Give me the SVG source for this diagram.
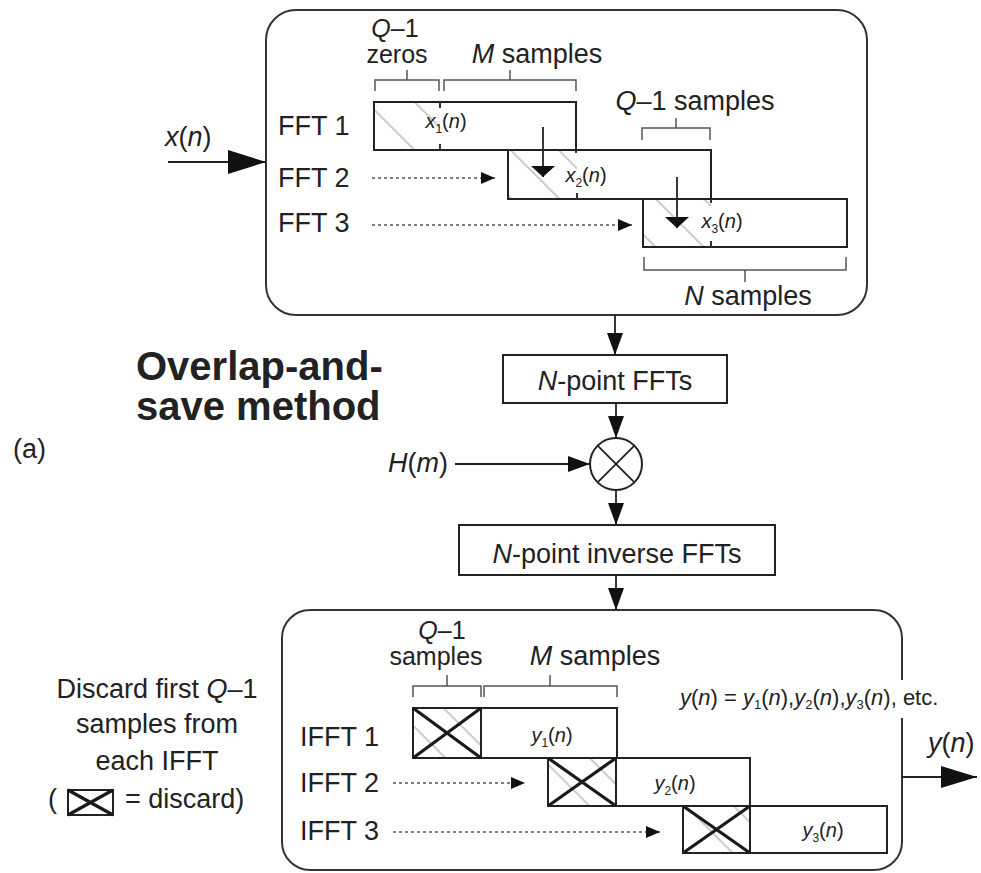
<svg xmlns="http://www.w3.org/2000/svg" width="981" height="873" viewBox="0 0 981 873">
<style>
text{font-family:"Liberation Sans",Arial,sans-serif;fill:#222}
.lb{font-size:27px}
.st{font-size:25px}
.sm{font-size:20px}
.eq{font-size:22px}
.hd{font-size:40px;font-weight:bold}
.it{font-style:italic}
.box{fill:#fff;stroke:#222;stroke-width:2}
.frame{fill:none;stroke:#333;stroke-width:2}
.br{fill:none;stroke:#555;stroke-width:1.5}
.ln{fill:none;stroke:#222;stroke-width:1.8}
.dot{fill:none;stroke:#555;stroke-width:1.6;stroke-dasharray:3 3}
.xx{stroke:#1a1a1a;stroke-width:3.2;fill:none}
.hatch{fill:url(#hp)}
.tick{stroke:#333;stroke-width:2}
</style>
<defs>
<pattern id="hp" patternUnits="userSpaceOnUse" width="34" height="34" patternTransform="rotate(-45)">
<line x1="17" y1="0" x2="17" y2="34" stroke="#aaa" stroke-width="1.2"/>
</pattern>
<marker id="mf" markerUnits="userSpaceOnUse" markerWidth="22" markerHeight="16" refX="22" refY="8" orient="auto"><path d="M0,0 L22,8 L0,16 Z" fill="#111"/></marker>
<marker id="mb" markerUnits="userSpaceOnUse" markerWidth="38" markerHeight="24" refX="38" refY="12" orient="auto"><path d="M0,0 L38,12 L0,24 Z" fill="#111"/></marker>
<marker id="mbo" markerUnits="userSpaceOnUse" markerWidth="36" markerHeight="22" refX="36" refY="11" orient="auto"><path d="M0,0 L36,11 L0,22 Z" fill="#111"/></marker>
<marker id="ms" markerUnits="userSpaceOnUse" markerWidth="14" markerHeight="12" refX="14" refY="6" orient="auto"><path d="M0,0 L14,6 L0,12 Z" fill="#111"/></marker>
<marker id="mw" markerUnits="userSpaceOnUse" markerWidth="11" markerHeight="24" refX="11" refY="12" orient="auto"><path d="M0,0 L11,12 L0,24 Z" fill="#111"/></marker>
</defs>
<rect width="981" height="873" fill="#fff"/>

<g id="input-frame">
<rect x="266" y="10" width="601" height="305" rx="30" class="frame"/>
<text class="st" x="395" y="37" text-anchor="middle"><tspan class="it">Q</tspan>–1</text>
<text class="st" x="397" y="63" text-anchor="middle">zeros</text>
<text class="lb" x="537" y="63" text-anchor="middle"><tspan class="it">M</tspan> samples</text>
<text class="lb" x="695" y="110" text-anchor="middle"><tspan class="it">Q</tspan>–1 samples</text>
<text class="lb" x="748" y="305" text-anchor="middle"><tspan class="it">N</tspan> samples</text>
<path class="br" d="M375,91 V80 H439 V91 M407,80 V70"/>
<path class="br" d="M444,91 V80 H576 V91 M510,80 V70"/>
<path class="br" d="M642,140 V128 H710 V140 M676,128 V118"/>
<path class="br" d="M644,257 V270 H846 V257 M745,270 V282"/>
</g>

<g id="fft1">
<text class="lb" x="278" y="135">FFT 1</text>
<rect x="374" y="102" width="202" height="48" class="box"/>
<rect x="375" y="103" width="65" height="46" class="hatch"/>
<line x1="440" y1="102" x2="440" y2="108" class="tick"/>
<line x1="440" y1="144" x2="440" y2="150" class="tick"/>
<text class="sm" x="446" y="128" text-anchor="middle"><tspan class="it">x</tspan><tspan font-size="12" dy="5">1</tspan><tspan dy="-5">(</tspan><tspan class="it">n</tspan>)</text>
</g>

<g id="fft2">
<text class="lb" x="278" y="187">FFT 2</text>
<rect x="508" y="150" width="203" height="49" class="box"/>
<rect x="509" y="151" width="68" height="47" class="hatch"/>
<line x1="577" y1="193" x2="577" y2="199" class="tick"/>
<text class="sm" x="586" y="182" text-anchor="middle"><tspan class="it">x</tspan><tspan font-size="12" dy="5">2</tspan><tspan dy="-5">(</tspan><tspan class="it">n</tspan>)</text>
</g>

<g id="fft3">
<text class="lb" x="278" y="232">FFT 3</text>
<rect x="643" y="199" width="204" height="48" class="box"/>
<rect x="644" y="200" width="67" height="46" class="hatch"/>
<line x1="711" y1="241" x2="711" y2="247" class="tick"/>
<text class="sm" x="722" y="228" text-anchor="middle"><tspan class="it">x</tspan><tspan font-size="12" dy="5">3</tspan><tspan dy="-5">(</tspan><tspan class="it">n</tspan>)</text>
</g>

<g id="fft-overlap-edges">
<line x1="576" y1="102" x2="576" y2="153" class="ln"/>
<line x1="711" y1="150" x2="711" y2="203" class="ln"/>
</g>

<g id="title">
<text class="hd" x="136" y="380">Overlap-and-</text>
<text class="hd" x="136" y="420">save method</text>
<text class="lb" x="13" y="458">(a)</text>
</g>

<g id="nfft">
<rect x="503" y="355" width="224" height="48" class="box"/>
<text class="lb" x="615" y="390" text-anchor="middle"><tspan class="it">N</tspan>-point FFTs</text>
</g>

<g id="mult">
<circle cx="616" cy="464" r="26" class="box"/>
<path d="M597.6,445.6 L634.4,482.4 M634.4,445.6 L597.6,482.4" stroke="#222" stroke-width="1.8"/>
</g>

<g id="hm">
<text class="lb" x="448" y="472" text-anchor="end"><tspan class="it">H</tspan>(<tspan class="it">m</tspan>)</text>
</g>

<g id="nifft">
<rect x="459" y="525" width="316" height="50" class="box"/>
<text class="lb" x="617" y="563" text-anchor="middle"><tspan class="it">N</tspan>-point inverse FFTs</text>
</g>

<g id="output-frame">
<path class="frame" d="M902,718 V842 A28,28 0 0 1 874,870 H310 A28,28 0 0 1 282,842 V638 A28,28 0 0 1 310,610 H874 A28,28 0 0 1 902,638 V680"/>
<text class="st" x="442" y="639" text-anchor="middle"><tspan class="it">Q</tspan>–1</text>
<text class="st" x="436" y="665" text-anchor="middle">samples</text>
<text class="lb" x="595" y="665" text-anchor="middle"><tspan class="it">M</tspan> samples</text>
<path class="br" d="M413,697 V686 H481 V697 M447,686 V675"/>
<path class="br" d="M484,697 V686 H617 V697 M550,686 V675"/>
<text class="eq" x="680" y="705"><tspan class="it">y</tspan>(<tspan class="it">n</tspan>) = <tspan class="it">y</tspan><tspan font-size="13" dy="4">1</tspan><tspan dy="-4">(</tspan><tspan class="it">n</tspan>),<tspan class="it">y</tspan><tspan font-size="13" dy="4">2</tspan><tspan dy="-4">(</tspan><tspan class="it">n</tspan>),<tspan class="it">y</tspan><tspan font-size="13" dy="4">3</tspan><tspan dy="-4">(</tspan><tspan class="it">n</tspan>), etc.</text>
</g>

<g id="ifft1">
<text class="lb" x="300" y="746">IFFT 1</text>
<rect x="413" y="708" width="204" height="50" class="box"/>
<rect x="414" y="709" width="67" height="48" class="hatch"/>
<rect x="413" y="708" width="68" height="50" class="box" style="fill:none"/>
<path class="xx" d="M413,708 L481,758 M481,708 L413,758"/>
<text class="sm" x="552" y="742" text-anchor="middle"><tspan class="it">y</tspan><tspan font-size="12" dy="5">1</tspan><tspan dy="-5">(</tspan><tspan class="it">n</tspan>)</text>
</g>

<g id="ifft2">
<text class="lb" x="300" y="792">IFFT 2</text>
<rect x="548" y="758" width="202" height="48" class="box"/>
<rect x="549" y="759" width="67" height="46" class="hatch"/>
<rect x="548" y="758" width="68" height="48" class="box" style="fill:none"/>
<path class="xx" d="M548,758 L616,806 M616,758 L548,806"/>
<text class="sm" x="675" y="790" text-anchor="middle"><tspan class="it">y</tspan><tspan font-size="12" dy="5">2</tspan><tspan dy="-5">(</tspan><tspan class="it">n</tspan>)</text>
</g>

<g id="ifft3">
<text class="lb" x="300" y="840">IFFT 3</text>
<rect x="683" y="806" width="204" height="47" class="box"/>
<rect x="684" y="807" width="66" height="45" class="hatch"/>
<rect x="683" y="806" width="67" height="47" class="box" style="fill:none"/>
<path class="xx" d="M683,806 L750,853 M750,806 L683,853"/>
<text class="sm" x="823" y="837" text-anchor="middle"><tspan class="it">y</tspan><tspan font-size="12" dy="5">3</tspan><tspan dy="-5">(</tspan><tspan class="it">n</tspan>)</text>
</g>

<g id="legend">
<text class="lb" x="157" y="698" text-anchor="middle">Discard first <tspan class="it">Q</tspan>–1</text>
<text class="lb" x="157" y="733" text-anchor="middle">samples from</text>
<text class="lb" x="157" y="770" text-anchor="middle">each IFFT</text>
<text class="lb" x="48" y="808">(</text>
<rect x="68" y="790" width="45" height="25" fill="none" stroke="#222" stroke-width="2"/>
<path class="xx" d="M68,790 L113,815 M113,790 L68,815"/>
<text class="lb" x="125" y="808">= discard)</text>
</g>

<g id="out-label">
<text class="lb" x="928" y="752"><tspan class="it">y</tspan>(<tspan class="it">n</tspan>)</text>
</g>

<g id="connectors">
<line x1="168" y1="162" x2="266" y2="162" class="ln" marker-end="url(#mb)"/>
<text class="lb" x="165" y="146"><tspan class="it">x</tspan>(<tspan class="it">n</tspan>)</text>
<line x1="372" y1="178" x2="495" y2="178" class="dot" marker-end="url(#ms)"/>
<line x1="372" y1="225" x2="632" y2="225" class="dot" marker-end="url(#ms)"/>
<line x1="543" y1="127" x2="543" y2="177" class="ln" marker-end="url(#mw)"/>
<line x1="677" y1="177" x2="677" y2="228" class="ln" marker-end="url(#mw)"/>
<line x1="615" y1="315" x2="615" y2="355" class="ln" marker-end="url(#mf)"/>
<line x1="616" y1="403" x2="616" y2="438" class="ln" marker-end="url(#mf)"/>
<line x1="455" y1="464" x2="590" y2="464" class="ln" marker-end="url(#mf)"/>
<line x1="616" y1="490" x2="616" y2="525" class="ln" marker-end="url(#mf)"/>
<line x1="616" y1="575" x2="616" y2="610" class="ln" marker-end="url(#mf)"/>
<line x1="393" y1="783" x2="525" y2="783" class="dot" marker-end="url(#ms)"/>
<line x1="393" y1="832" x2="660" y2="832" class="dot" marker-end="url(#ms)"/>
<line x1="902" y1="777" x2="977" y2="777" class="ln" marker-end="url(#mbo)"/>
</g>
</svg>
